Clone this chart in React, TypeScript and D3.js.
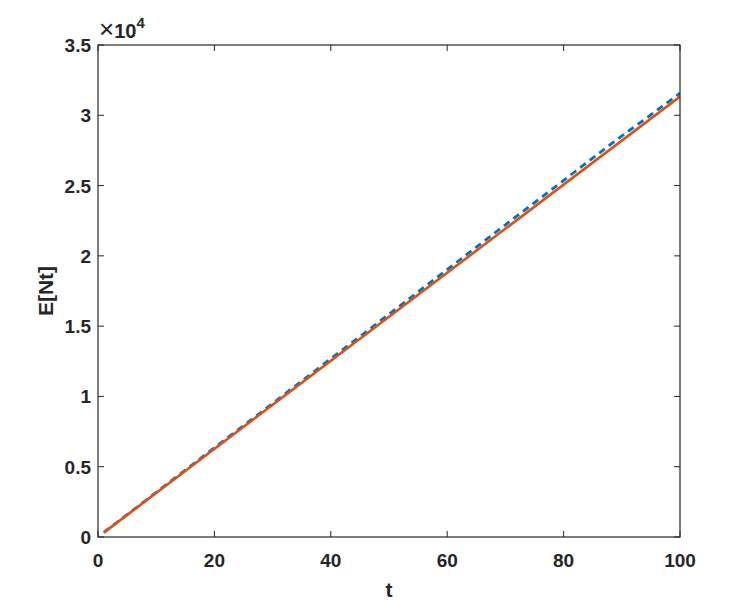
import React from "react";
import * as d3 from "d3";

const tTheory: number[] = [1, 100];
const nTheory: number[] = [313, 31330];

const tSim: number[] = [1, 4, 7, 10, 13, 16, 19, 22, 25, 28, 31, 34, 37, 40, 43, 46, 49, 52, 55, 58, 61, 64, 67, 70, 73, 76, 79, 82, 85, 88, 91, 94, 97, 100];
const nSim: number[] = [323, 1273, 2223, 3178, 4128, 5078, 6033, 6978, 7928, 8872, 9822, 10777, 11732, 12682, 13632, 14582, 15532, 16482, 17442, 18391, 19346, 20301, 21256, 22211, 23156, 24101, 25051, 26001, 26956, 27905, 28840, 29730, 30650, 31570];

const xTicks: number[] = [0, 20, 40, 60, 80, 100];
const yTicks: number[] = [0, 5000, 10000, 15000, 20000, 25000, 30000, 35000];
const yTickLabels: string[] = ["0", "0.5", "1", "1.5", "2", "2.5", "3", "3.5"];

const W = 752, H = 605;
const L = 98, R = 680, T = 45, B = 537;
const axisColor = "#262626";
const font = "'Liberation Sans', Arial, Helvetica, sans-serif";

export default function App() {
  const x = d3.scaleLinear().domain([0, 100]).range([L, R]);
  const y = d3.scaleLinear().domain([0, 35000]).range([B, T]);
  const line = d3.line<[number, number]>().x(d => x(d[0])).y(d => y(d[1]));
  const simPts = tSim.map((t, i) => [t, nSim[i]] as [number, number]);
  const thPts = tTheory.map((t, i) => [t, nTheory[i]] as [number, number]);
  const tickLen = 6;
  return (
    <svg width={W} height={H} style={{ position: "absolute", left: 0, top: 0, background: "#fff" }} fontFamily={font}>
      <rect x={0} y={0} width={W} height={H} fill="#fff" />
      <defs>
        <clipPath id="clip"><rect x={L} y={T} width={R - L} height={B - T} /></clipPath>
      </defs>
      <g clipPath="url(#clip)">
        <path d={line(simPts) || ""} fill="none" stroke="#0072BD" strokeWidth={2.8} strokeDasharray="7,5" />
        <path d={line(thPts) || ""} fill="none" stroke="#D95319" strokeWidth={2.6} />
      </g>
      <rect x={L} y={T} width={R - L} height={B - T} fill="none" stroke={axisColor} strokeWidth={1.2} />
      {xTicks.map(t => (
        <g key={"x" + t}>
          <line x1={x(t)} x2={x(t)} y1={B} y2={B - tickLen} stroke={axisColor} strokeWidth={1} />
          <line x1={x(t)} x2={x(t)} y1={T} y2={T + tickLen} stroke={axisColor} strokeWidth={1} />
          <text x={x(t)} y={B + 30} textAnchor="middle" fontSize={19} fontWeight="bold" fill={axisColor}>{t}</text>
        </g>
      ))}
      {yTicks.map((v, i) => (
        <g key={"y" + v}>
          <line x1={L} x2={L + tickLen} y1={y(v)} y2={y(v)} stroke={axisColor} strokeWidth={1} />
          <line x1={R} x2={R - tickLen} y1={y(v)} y2={y(v)} stroke={axisColor} strokeWidth={1} />
          <text x={L - 7} y={y(v) + 7} textAnchor="end" fontSize={19} fontWeight="bold" fill={axisColor}>{yTickLabels[i]}</text>
        </g>
      ))}
      <text x={L + 1} y={T - 7} fontSize={20} fontWeight="bold" fill={axisColor}>
        <tspan fontWeight="normal" fontSize={26}>×</tspan>10<tspan dy={-10} fontSize={15}>4</tspan>
      </text>
      <text x={(L + R) / 2} y={597} textAnchor="middle" fontSize={21} fontWeight="bold" fill={axisColor}>t</text>
      <text transform={`translate(53,${(T + B) / 2}) rotate(-90)`} textAnchor="middle" fontSize={21} fontWeight="bold" fill={axisColor}>E[Nt]</text>
    </svg>
  );
}
